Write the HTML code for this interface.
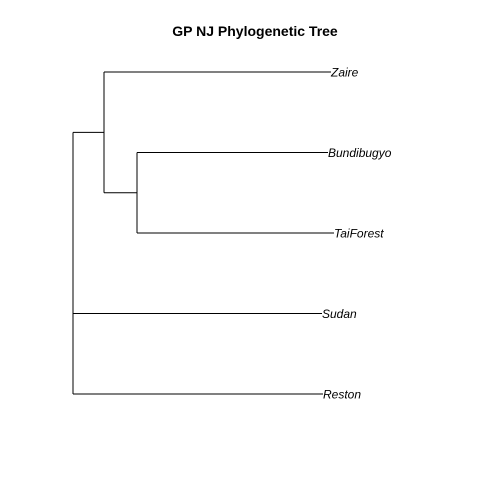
<!DOCTYPE html>
<html><head><meta charset="utf-8"><style>
html,body{margin:0;padding:0;background:#fff;}
svg{display:block;font-family:"Liberation Sans",Arial,sans-serif;}
</style></head><body>
<svg id="c" width="480" height="480">
<rect width="480" height="480" fill="#fff"/>
<text x="255" y="36" text-anchor="middle" font-weight="bold" font-size="14">GP NJ Phylogenetic Tree</text>
<g id="tree"></g>
</svg>
<script>
// tree data: node names, parent index, branch lengths
const nodeNames = ["root","cladeA","cladeB","Zaire","Bundibugyo","TaiForest","Sudan","Reston"];
const parents   = [-1, 0, 1, 1, 2, 2, 0, 0];
const branchLengths = [0, 0.31, 0.33, 2.27, 1.91, 1.97, 2.49, 2.50];
const tipOrder = ["Zaire","Bundibugyo","TaiForest","Sudan","Reston"];

const xScale = v => 73 + v * 100;
const yScale = i => 72 + i * 80.5;

const NS = "http://www.w3.org/2000/svg";
const g = document.getElementById("tree");
const depth = [], ypos = [];
for (let i = 0; i < nodeNames.length; i++) {
  depth[i] = parents[i] < 0 ? 0 : depth[parents[i]] + branchLengths[i];
}
for (let i = nodeNames.length - 1; i >= 0; i--) {
  const t = tipOrder.indexOf(nodeNames[i]);
  if (t >= 0) ypos[i] = yScale(t);
  else {
    const kids = [];
    for (let k = 0; k < parents.length; k++) if (parents[k] === i) kids.push(ypos[k]);
    ypos[i] = (Math.min(...kids) + Math.max(...kids)) / 2;
    const v = document.createElementNS(NS, "line");
    v.setAttribute("x1", xScale(depth[i])); v.setAttribute("x2", xScale(depth[i]));
    v.setAttribute("y1", Math.min(...kids)); v.setAttribute("y2", Math.max(...kids));
    v.setAttribute("stroke", "#000"); v.setAttribute("stroke-width", "1");
    
    
    g.appendChild(v);
  }
}
for (let i = 0; i < nodeNames.length; i++) {
  if (parents[i] < 0) continue;
  const h = document.createElementNS(NS, "line");
  h.setAttribute("x1", xScale(depth[parents[i]])); h.setAttribute("x2", xScale(depth[i]));
  h.setAttribute("y1", ypos[i]); h.setAttribute("y2", ypos[i]);
  h.setAttribute("stroke", "#000"); h.setAttribute("stroke-width", "1");
  
  
  g.appendChild(h);
  if (tipOrder.indexOf(nodeNames[i]) >= 0) {
    const t = document.createElementNS(NS, "text");
    t.setAttribute("x", xScale(depth[i]));
    t.setAttribute("y", ypos[i] + 4.5);
    t.setAttribute("font-size", "12");
    t.setAttribute("font-style", "italic");
    t.textContent = nodeNames[i];
    
    
    g.appendChild(t);
  }
}
</script>
</body></html>
